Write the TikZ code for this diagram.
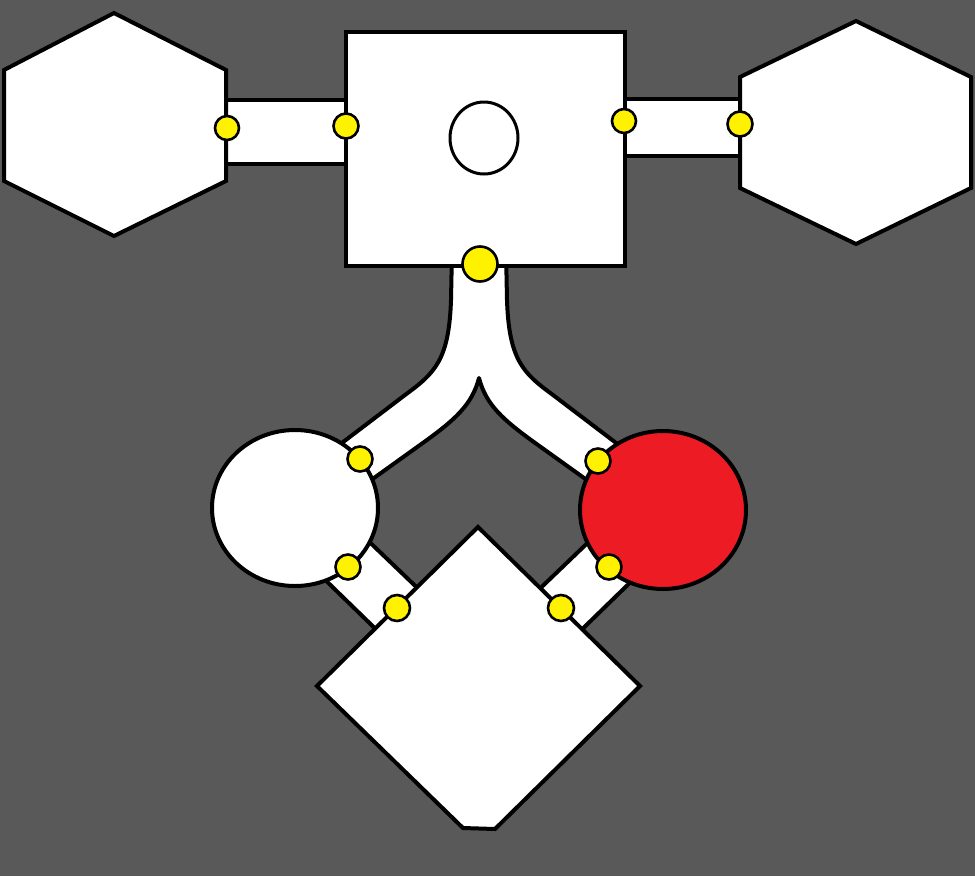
\documentclass[tikz,border=0pt]{standalone}
\definecolor{bgc}{RGB}{89,89,89}
\definecolor{redc}{RGB}{237,28,36}
\definecolor{yel}{RGB}{255,242,0}
\begin{document}
\begin{tikzpicture}[x=1pt,y=-1pt,
  room/.style={fill=white,draw=black,line width=4pt,line join=miter},
  redroom/.style={fill=redc,draw=black,line width=4pt},
  door/.style={fill=yel,draw=black,line width=2.6pt}]
\fill[bgc] (0,0) rectangle (975,876);
\useasboundingbox (0,0) rectangle (975,876);
% corridors
\draw[room] (220,100) rectangle (352,164);
\draw[room] (619,99) rectangle (746,156);
\draw[room,line join=round] (452,250) -- (451,300) .. controls (449,360) and (435,373) .. (405,395) -- (330,452) -- (360,488) -- (420,445) .. controls (455,420) and (472,405) .. (479,378) .. controls (486,405) and (503,420) .. (538,445) -- (598,488) -- (628,452) -- (553,395) .. controls (523,373) and (509,360) .. (507,300) -- (506,250) -- cycle;
\draw[room] (314,569) -- (358,531) -- (431,601) -- (389,642) -- cycle;
\draw[room] (644,569) -- (600,531) -- (527,601) -- (569,642) -- cycle;
% rooms
\draw[room] (114,13) -- (226,70) -- (226,181) -- (114,236) -- (4,181) -- (4,70) -- cycle;
\draw[room] (856,21) -- (971,77) -- (971,188) -- (856,244) -- (740,188) -- (740,77) -- cycle;
\draw[room] (346,32) rectangle (625,266);
\draw[fill=white,draw=black,line width=3pt] (484,138) ellipse [x radius=34, y radius=36];
\draw[room] (295,508) ellipse [x radius=83, y radius=78];
\draw[redroom] (663,510) ellipse [x radius=83, y radius=79];
\draw[room] (478,527) -- (640,686) -- (495,829) -- (463,828) -- (317,686) -- cycle;
% doors
\draw[door] (227,128) circle (12);
\draw[door] (346,126) circle (12.5);
\draw[door] (624,121) circle (12);
\draw[door] (740,124) circle (12.5);
\draw[door] (480,264) circle (17.5);
\draw[door] (360,459) circle (12.5);
\draw[door] (598,461) circle (12.5);
\draw[door] (348,567) circle (12.5);
\draw[door] (609,567) circle (12.5);
\draw[door] (397,608) circle (13);
\draw[door] (561,608) circle (13);
\end{tikzpicture}
\end{document}
